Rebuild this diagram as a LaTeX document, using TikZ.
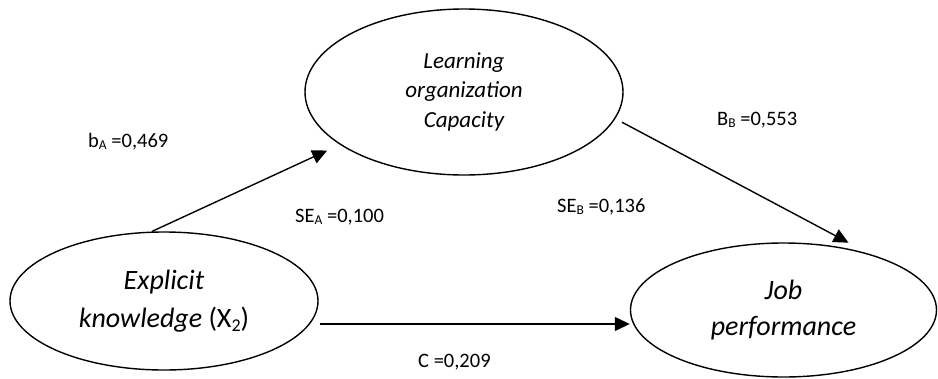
\documentclass[tikz,border=0pt]{standalone}
\usepackage{fontspec}
\setmainfont{Carlito}
\usetikzlibrary{shapes.geometric,arrows.meta}
\newcommand\lowsub[2]{\raisebox{-0.12em}{\fontsize{#2}{#2}\selectfont #1}}
\newcommand\stacklines[1]{\begin{tabular}{@{}c@{}}#1\end{tabular}}
\begin{document}
\begin{tikzpicture}[x=1pt,y=-1pt,
  oval/.style={draw, line width=1.4pt, ellipse, inner sep=0pt},
  link/.style={line width=1.4pt, -{Triangle[length=15pt,width=14pt]}},
  coef/.style={font=\fontsize{20.5}{24}\selectfont, inner sep=0pt, anchor=base west}]
\useasboundingbox (0,0) rectangle (938,378);
\node[oval, minimum width=318pt, minimum height=166pt, font=\fontsize{23}{29.5}\selectfont\itshape] (lo) at (464,92) {\stacklines{Learning\\organization\\Capacity}};
\node[oval, minimum width=308pt, minimum height=138pt, font=\fontsize{28}{38.5}\selectfont] (lk) at (164,301) {\stacklines{\textit{Explicit}\\\textit{knowledge} (X\lowsub{2}{18})}};
\node[oval, minimum width=306pt, minimum height=134pt, font=\fontsize{28}{36}\selectfont\itshape] (jp) at (783.5,310) {\stacklines{Job\\performance}};
\draw[link, shorten >=14pt] (lk.100) -- (lo.203.5);
\draw[link, shorten <=7.5pt, shorten >=24pt] (lo.-10.8) -- (jp.33.2);
\draw[link] ([xshift=1pt,yshift=-23pt]lk.east) -- ([yshift=-14pt]jp.west);
\node[coef] (ba) at (88,147) {b\lowsub{A}{13.5} =0,469};
\node[coef] (sea) at (295,222) {SE\lowsub{A}{13.5} =0,100};
\node[coef] (seb) at (557,212) {SE\lowsub{B}{13.5} =0,136};
\node[coef] (bb) at (717,125) {B\lowsub{B}{13.5} =0,553};
\node[coef] (c) at (418,367) {C =0,209};
\end{tikzpicture}
\end{document}
